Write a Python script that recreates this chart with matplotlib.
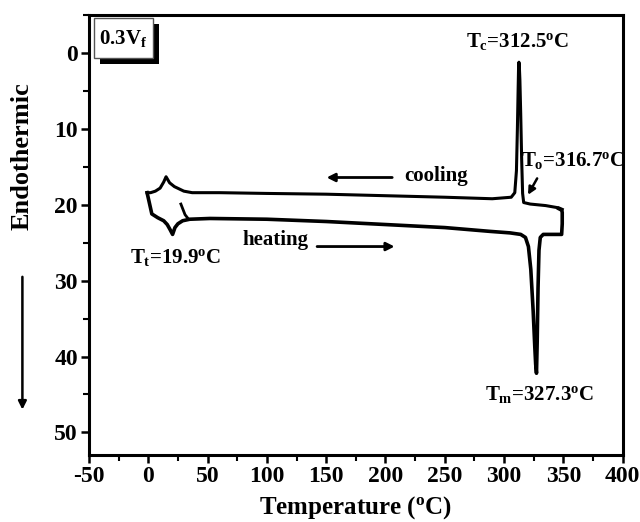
import numpy as np
import matplotlib
matplotlib.use('Agg')
import matplotlib.pyplot as plt
from matplotlib.patches import Rectangle, FancyArrowPatch
from matplotlib.ticker import MultipleLocator

plt.rcParams['font.family'] = 'Liberation Serif'
plt.rcParams['font.weight'] = 'bold'
plt.rcParams['axes.labelweight'] = 'bold'
plt.rcParams['axes.unicode_minus'] = False
plt.rcParams['mathtext.fontset'] = 'custom'
plt.rcParams['mathtext.rm'] = 'Liberation Serif:bold'
plt.rcParams['mathtext.it'] = 'Liberation Serif:bold'
plt.rcParams['mathtext.bf'] = 'Liberation Serif:bold'

# cooling run, from 350 C down to 0 C
cool_T = [349, 346, 335, 322, 316.5, 315.6, 314.8, 314.0, 313.3, 312.8, 312.5,
          312.2, 311.8, 311.2, 310.4, 309, 306, 290, 250, 200, 150, 100, 60,
          37, 30, 26, 22, 18, 15, 13, 10, 6, 2, -1]
cool_H = [20.6, 20.4, 20.1, 19.9, 19.7, 18.5, 14.0, 8.0, 3.5, 1.6, 1.2,
          1.8, 5.0, 10.0, 15.5, 18.4, 19.0, 19.2, 19.0, 18.8, 18.6, 18.5, 18.4,
          18.4, 18.2, 17.9, 17.6, 17.1, 16.3, 17.0, 17.8, 18.2, 18.4, 18.4]

# isothermal step at 0 C and heating run up to 350 C
heat_T = [-1, 1, 3, 8, 13, 16, 18.5, 20.5, 22.5, 25, 29, 35, 52, 100, 150, 200,
          250, 288, 305, 314, 318, 320.5, 322.5, 324.5, 325.8, 326.6, 327.3,
          327.9, 328.6, 329.4, 330.5, 333, 340, 348.5, 349, 349, 348.5, 346]
heat_H = [18.4, 19.8, 21.2, 21.7, 22.1, 22.6, 23.3, 23.9, 23.0, 22.5, 22.1, 21.9,
          21.8, 21.9, 22.2, 22.6, 23.0, 23.5, 23.7, 23.9, 24.3, 25.5, 28.5, 34.0,
          38.5, 41.0, 42.2, 38.0, 31.0, 26.0, 24.3, 23.9, 23.9, 23.9, 22.5, 21.0,
          20.7, 20.5]

# start of the first heating run
start_T = [27.5, 29, 31, 33]
start_H = [19.9, 20.5, 21.3, 21.7]

fig = plt.figure(figsize=(6.4, 5.22), dpi=100)
ax = fig.add_axes([0.139, 0.128, 0.834, 0.843])

ax.plot(cool_T, cool_H, color='black', lw=2.2, solid_joinstyle='round')
ax.plot(heat_T, heat_H, color='black', lw=2.6, solid_joinstyle='round')
ax.plot(start_T, start_H, color='black', lw=2.0)

ax.set_xlim(-50, 400)
ax.set_ylim(53, -5)
ax.xaxis.set_major_locator(MultipleLocator(50))
ax.xaxis.set_minor_locator(MultipleLocator(25))
ax.yaxis.set_major_locator(MultipleLocator(10))
ax.yaxis.set_minor_locator(MultipleLocator(5))
ax.set_yticks([0, 10, 20, 30, 40, 50])
ax.tick_params(which='major', direction='out', length=6, width=1.8, labelsize=17, pad=2)
ax.tick_params(which='minor', direction='out', length=4, width=1.5)
ax.tick_params(top=False, right=False)
for s in ax.spines.values():
    s.set_linewidth(2.2)

ax.set_xlabel('Temperature ($^o$C)', fontsize=18, labelpad=5)

# y label with the downward arrow
fig.text(0.035, 0.70, 'Endothermic', rotation=90, fontsize=19,
         ha='center', va='center')
fig.patches.append(FancyArrowPatch(
    (0.035, 0.475), (0.035, 0.21), transform=fig.transFigure,
    arrowstyle='-|>', mutation_scale=12, lw=1.8, color='black'))

# sample box with shadow
ax.add_patch(Rectangle((0.021, 0.888), 0.111, 0.092, transform=ax.transAxes,
                       facecolor='black', edgecolor='none', zorder=3))
ax.add_patch(Rectangle((0.009, 0.902), 0.111, 0.092, transform=ax.transAxes,
                       facecolor='white', edgecolor='#555555', lw=1.0, zorder=4))
ax.text(0.064, 0.948, '0.3V$_f$', transform=ax.transAxes, fontsize=15,
        ha='center', va='center', zorder=5)

fs = 15
ax.text(311.5, -1.5, '$T_c$=312.5$^o$C', fontsize=fs, ha='center', va='center')
ax.text(314.5, 14.2, '$T_o$=316.7$^o$C', fontsize=fs, ha='left', va='center')
ax.text(23, 27.0, '$T_t$=19.9$^o$C', fontsize=fs, ha='center', va='center')
ax.text(330, 45.0, '$T_m$=327.3$^o$C', fontsize=fs, ha='center', va='center')
ax.text(243, 16.2, 'cooling', fontsize=15, ha='center', va='center')
ax.text(107, 24.7, 'heating', fontsize=15, ha='center', va='center')

ax.annotate('', xy=(148, 16.4), xytext=(208, 16.4),
            arrowprops=dict(arrowstyle='-|>', lw=2.0, color='black', mutation_scale=12))
ax.annotate('', xy=(210, 25.5), xytext=(140, 25.5),
            arrowprops=dict(arrowstyle='-|>', lw=2.0, color='black', mutation_scale=12))
ax.annotate('', xy=(319, 19.0), xytext=(329, 16.2),
            arrowprops=dict(arrowstyle='-|>', lw=1.8, color='black', mutation_scale=11))

fig.savefig('out.png', dpi=100)
